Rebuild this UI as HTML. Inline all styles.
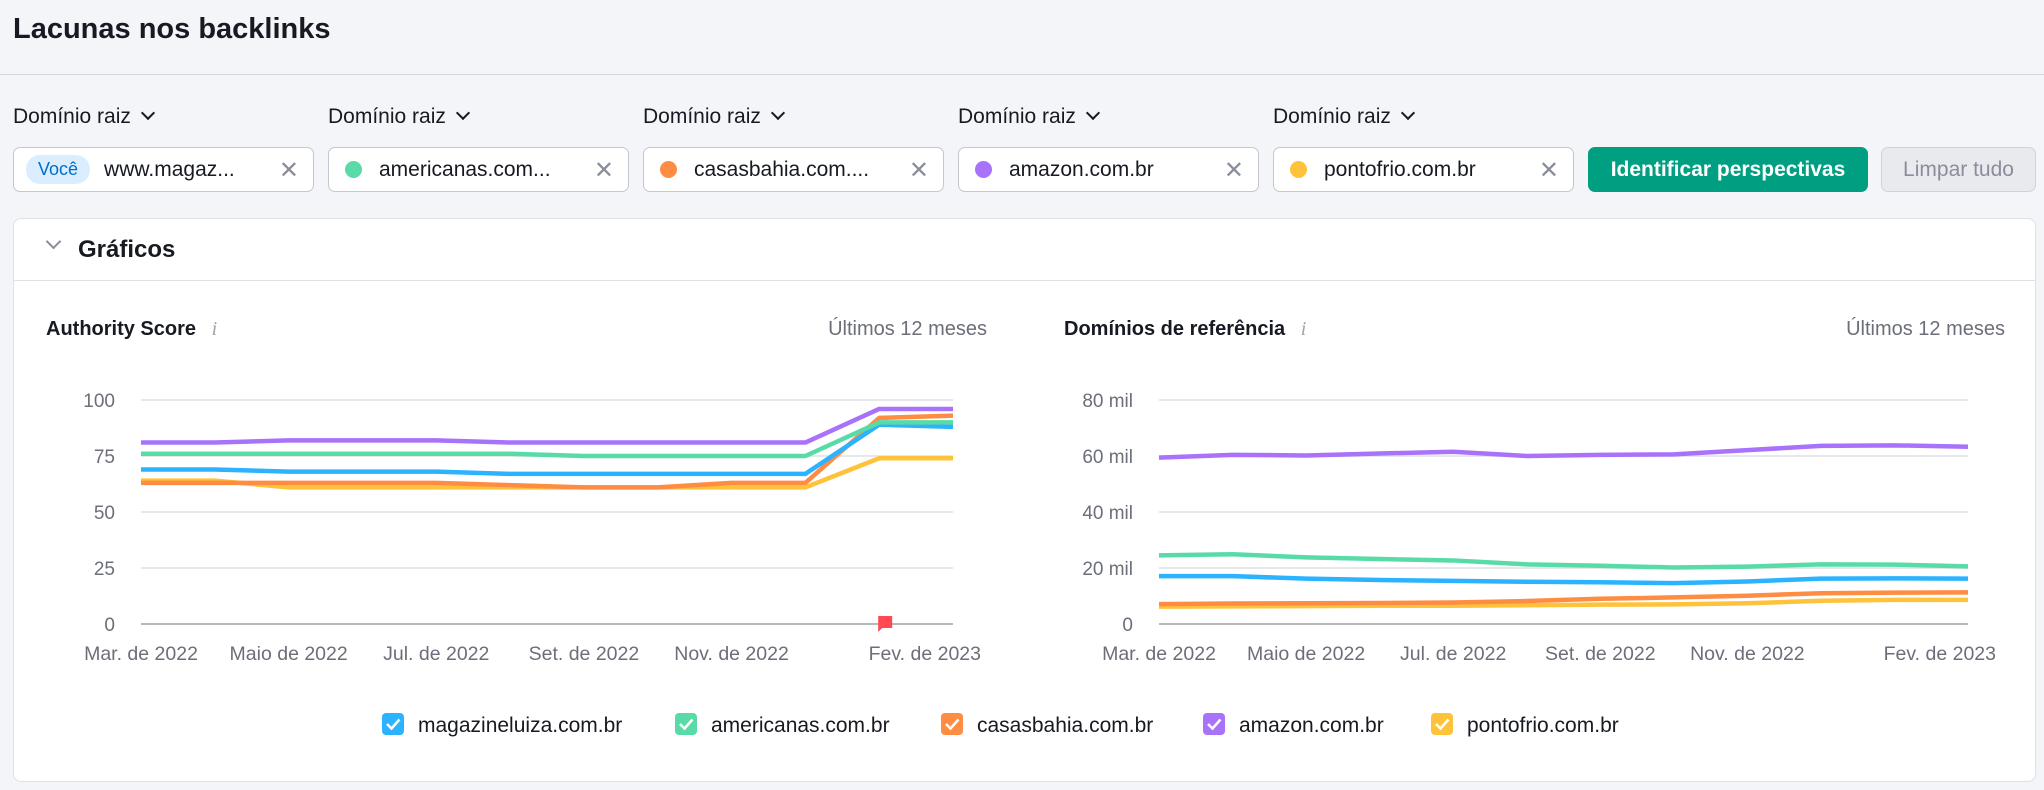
<!DOCTYPE html>
<html><head><meta charset="utf-8">
<style>
*{box-sizing:border-box;margin:0;padding:0}
body{width:2044px;height:790px;background:#f4f5f9;font-family:"Liberation Sans",Arial,sans-serif;color:#171a22;position:relative;overflow:hidden}
.abs{position:absolute}
.title{left:13px;top:13px;font-size:29px;font-weight:bold}
.hdrline{left:0;top:74px;width:2044px;height:1px;background:#d4d6dc}
.flabel{top:105px;font-size:21px;color:#171a22}
.flabel span{display:inline-block;width:10px;height:10px;border-right:2.5px solid #171a22;border-bottom:2.5px solid #171a22;transform:rotate(45deg);margin-left:12px;position:relative;top:-5px}
.chip{top:147px;width:301px;height:45px;background:#fff;border:1px solid #c4c7cf;border-radius:7px;font-size:21px;display:flex;align-items:center;padding-left:12px}
.chip .dot{width:17px;height:17px;border-radius:50%;margin-right:17px;margin-left:4px}
.chip .x{position:absolute;right:14px;top:8px;font-size:24px;color:#8a8e9b}
.you{background:#dbeeff;color:#006dca;border-radius:14px;font-size:18px;padding:4px 12px;margin-right:14px}
.btn{top:147px;height:45px;border-radius:7px;font-size:21px;display:flex;align-items:center;justify-content:center}
.card{left:13px;top:218px;width:2023px;height:564px;background:#fff;border:1px solid #dfe1e6;border-radius:8px}
</style></head><body>
<div class="abs title">Lacunas nos backlinks</div>
<div class="abs hdrline"></div>

<div class="abs flabel" style="left:13px">Domínio raiz<span></span></div>
<div class="abs flabel" style="left:328px">Domínio raiz<span></span></div>
<div class="abs flabel" style="left:643px">Domínio raiz<span></span></div>
<div class="abs flabel" style="left:958px">Domínio raiz<span></span></div>
<div class="abs flabel" style="left:1273px">Domínio raiz<span></span></div>

<div class="abs chip" style="left:13px"><span class="you">Você</span>www.magaz...<span class="x">✕</span></div>
<div class="abs chip" style="left:328px"><span class="dot" style="background:#59dba7"></span>americanas.com...<span class="x">✕</span></div>
<div class="abs chip" style="left:643px"><span class="dot" style="background:#ff8c43"></span>casasbahia.com....<span class="x">✕</span></div>
<div class="abs chip" style="left:958px"><span class="dot" style="background:#a972fb"></span>amazon.com.br<span class="x">✕</span></div>
<div class="abs chip" style="left:1273px"><span class="dot" style="background:#ffc23b"></span>pontofrio.com.br<span class="x">✕</span></div>

<div class="abs btn" style="left:1588px;width:280px;background:#009f81;color:#fff;font-weight:bold">Identificar perspectivas</div>
<div class="abs btn" style="left:1881px;width:155px;background:#e9eaee;color:#8a8e9b;border:1px solid #d0d2d8">Limpar tudo</div>

<div class="abs card"></div>
<div class="abs" style="left:48px;top:236px;width:11px;height:11px;border-right:2.5px solid #8a8e9b;border-bottom:2.5px solid #8a8e9b;transform:rotate(45deg)"></div>
<div class="abs" style="left:78px;top:236px;font-size:24px;font-weight:bold">Gráficos</div>
<div class="abs" style="left:14px;top:280px;width:2021px;height:1px;background:#dfe1e6"></div>

<div class="abs" style="left:46px;top:318px;font-size:20px;font-weight:bold">Authority Score <span style="color:#a0a4ae;font-style:italic;font-weight:normal;margin-left:10px;font-family:'Liberation Serif',serif">i</span></div>
<div class="abs" style="right:1057px;top:318px;font-size:20px;color:#6c6e79">Últimos 12 meses</div>
<div class="abs" style="left:1064px;top:318px;font-size:20px;font-weight:bold">Domínios de referência <span style="color:#a0a4ae;font-style:italic;font-weight:normal;margin-left:10px;font-family:'Liberation Serif',serif">i</span></div>
<div class="abs" style="right:39px;top:318px;font-size:20px;color:#6c6e79">Últimos 12 meses</div>

<svg id="chart" class="abs" style="left:0;top:0" width="2044" height="790"></svg>

<script>
const xLabels=["Mar. de 2022","Maio de 2022","Jul. de 2022","Set. de 2022","Nov. de 2022","Fev. de 2023"];
const xLabelIdx=[0,2,4,6,8,11];
const seriesNames=["magazineluiza","americanas","casasbahia","amazon","pontofrio"];
const colors=["#2bb3ff","#59dba7","#ff8c43","#a972fb","#ffc23b"];
const asTicks=[0,25,50,75,100];
const asMagazine=[69,69,68,68,68,67,67,67,67,67,89,88];
const asAmericanas=[76,76,76,76,76,76,75,75,75,75,90,90];
const asCasas=[63,63,63,63,63,62,61,61,63,63,92,93];
const asAmazon=[81,81,82,82,82,81,81,81,81,81,96,96];
const asPonto=[64,64,61,61,61,61,61,61,61,61,74,74];
const rdTicks=[0,20,40,60,80];
const rdTickLabels=["0","20 mil","40 mil","60 mil","80 mil"];
const rdMagazine=[17.1,17.1,16.2,15.7,15.4,15.1,14.9,14.6,15.2,16.2,16.3,16.2];
const rdAmericanas=[24.5,24.9,23.8,23.2,22.7,21.3,20.8,20.2,20.5,21.3,21.2,20.6];
const rdCasas=[7.1,7.3,7.4,7.5,7.7,8.2,9.0,9.5,10.1,11.0,11.2,11.3];
const rdAmazon=[59.4,60.4,60.2,60.9,61.5,60.0,60.4,60.6,62.1,63.6,63.8,63.3];
const rdPonto=[6.2,6.3,6.4,6.5,6.5,6.7,6.9,7.0,7.4,8.3,8.6,8.6];
const legendLabels=["magazineluiza.com.br","americanas.com.br","casasbahia.com.br","amazon.com.br","pontofrio.com.br"];

const svg=document.getElementById('chart');
const NS="http://www.w3.org/2000/svg";
function mk(t,a){const e=document.createElementNS(NS,t);for(const k in a)e.setAttribute(k,a[k]);svg.appendChild(e);return e;}

function drawAll(){
  const order=[4,2,0,1,3];
  const asData=[asMagazine,asAmericanas,asCasas,asAmazon,asPonto];
  const rdData=[rdMagazine,rdAmericanas,rdCasas,rdAmazon,rdPonto];
  const cfgs=[
    {id:'authority',x0:141,x1:953,y0:624,y1:400,max:100,ticks:asTicks,tickLabels:asTicks.map(String),tickRight:115,data:asData},
    {id:'referring',x0:1159,x1:1968,y0:624,y1:400,max:80,ticks:rdTicks,tickLabels:rdTickLabels,tickRight:1133,data:rdData}];
  cfgs.forEach(cfg=>{
    const x=i=>cfg.x0+(cfg.x1-cfg.x0)*i/11;
    const y=v=>cfg.y0-(cfg.y0-cfg.y1)*v/cfg.max;
    cfg.ticks.forEach((t,i)=>{
      const g=mk('line',{x1:cfg.x0,x2:cfg.x1,y1:y(t),y2:y(t),stroke:t===0?'#b5b9bd':'#e6e8ea','stroke-width':2});
      
      
      const tx=mk('text',{x:cfg.tickRight,y:y(t)+7,'text-anchor':'end','font-size':19,fill:'#6c6e79','font-family':'Liberation Sans, sans-serif'});
      tx.textContent=cfg.tickLabels[i];
      
      
    });
    xLabels.forEach((l,i)=>{
      const last=i===xLabels.length-1;
      const tx=mk('text',{x:last?x(xLabelIdx[i])+28:x(xLabelIdx[i]),y:660,'text-anchor':last?'end':'middle','font-size':19.5,fill:'#6c6e79','font-family':'Liberation Sans, sans-serif'});
      tx.textContent=l;
      
      
    });
    order.forEach(k=>{
      const p=mk('polyline',{points:cfg.data[k].map((v,i)=>x(i)+','+y(v)).join(' '),fill:'none',stroke:colors[k],'stroke-width':4.5,'stroke-linejoin':'round'});
      
      
    });
    if(cfg.id==='authority'){
      const f=mk('path',{d:`M${x(10)-1} 616 h14 v12 h-10 l-4 4 z`,fill:'#ff4953'});
      
      
    }
  });
  const lx=[382,675,941,1203,1431];
  legendLabels.forEach((l,k)=>{
    const r=mk('rect',{x:lx[k],y:713,width:22,height:22,rx:4,fill:colors[k]});
    
    
    const c=mk('path',{d:`M${lx[k]+5} 724 l4.5 4.5 l8 -9`,fill:'none',stroke:'#fff','stroke-width':2.5});
    
    
    const t=mk('text',{x:lx[k]+36,y:732,'font-size':21,fill:'#171a22','font-family':'Liberation Sans, sans-serif'});
    t.textContent=l;
    
    
  });
}
drawAll();
</script>
</body></html>
